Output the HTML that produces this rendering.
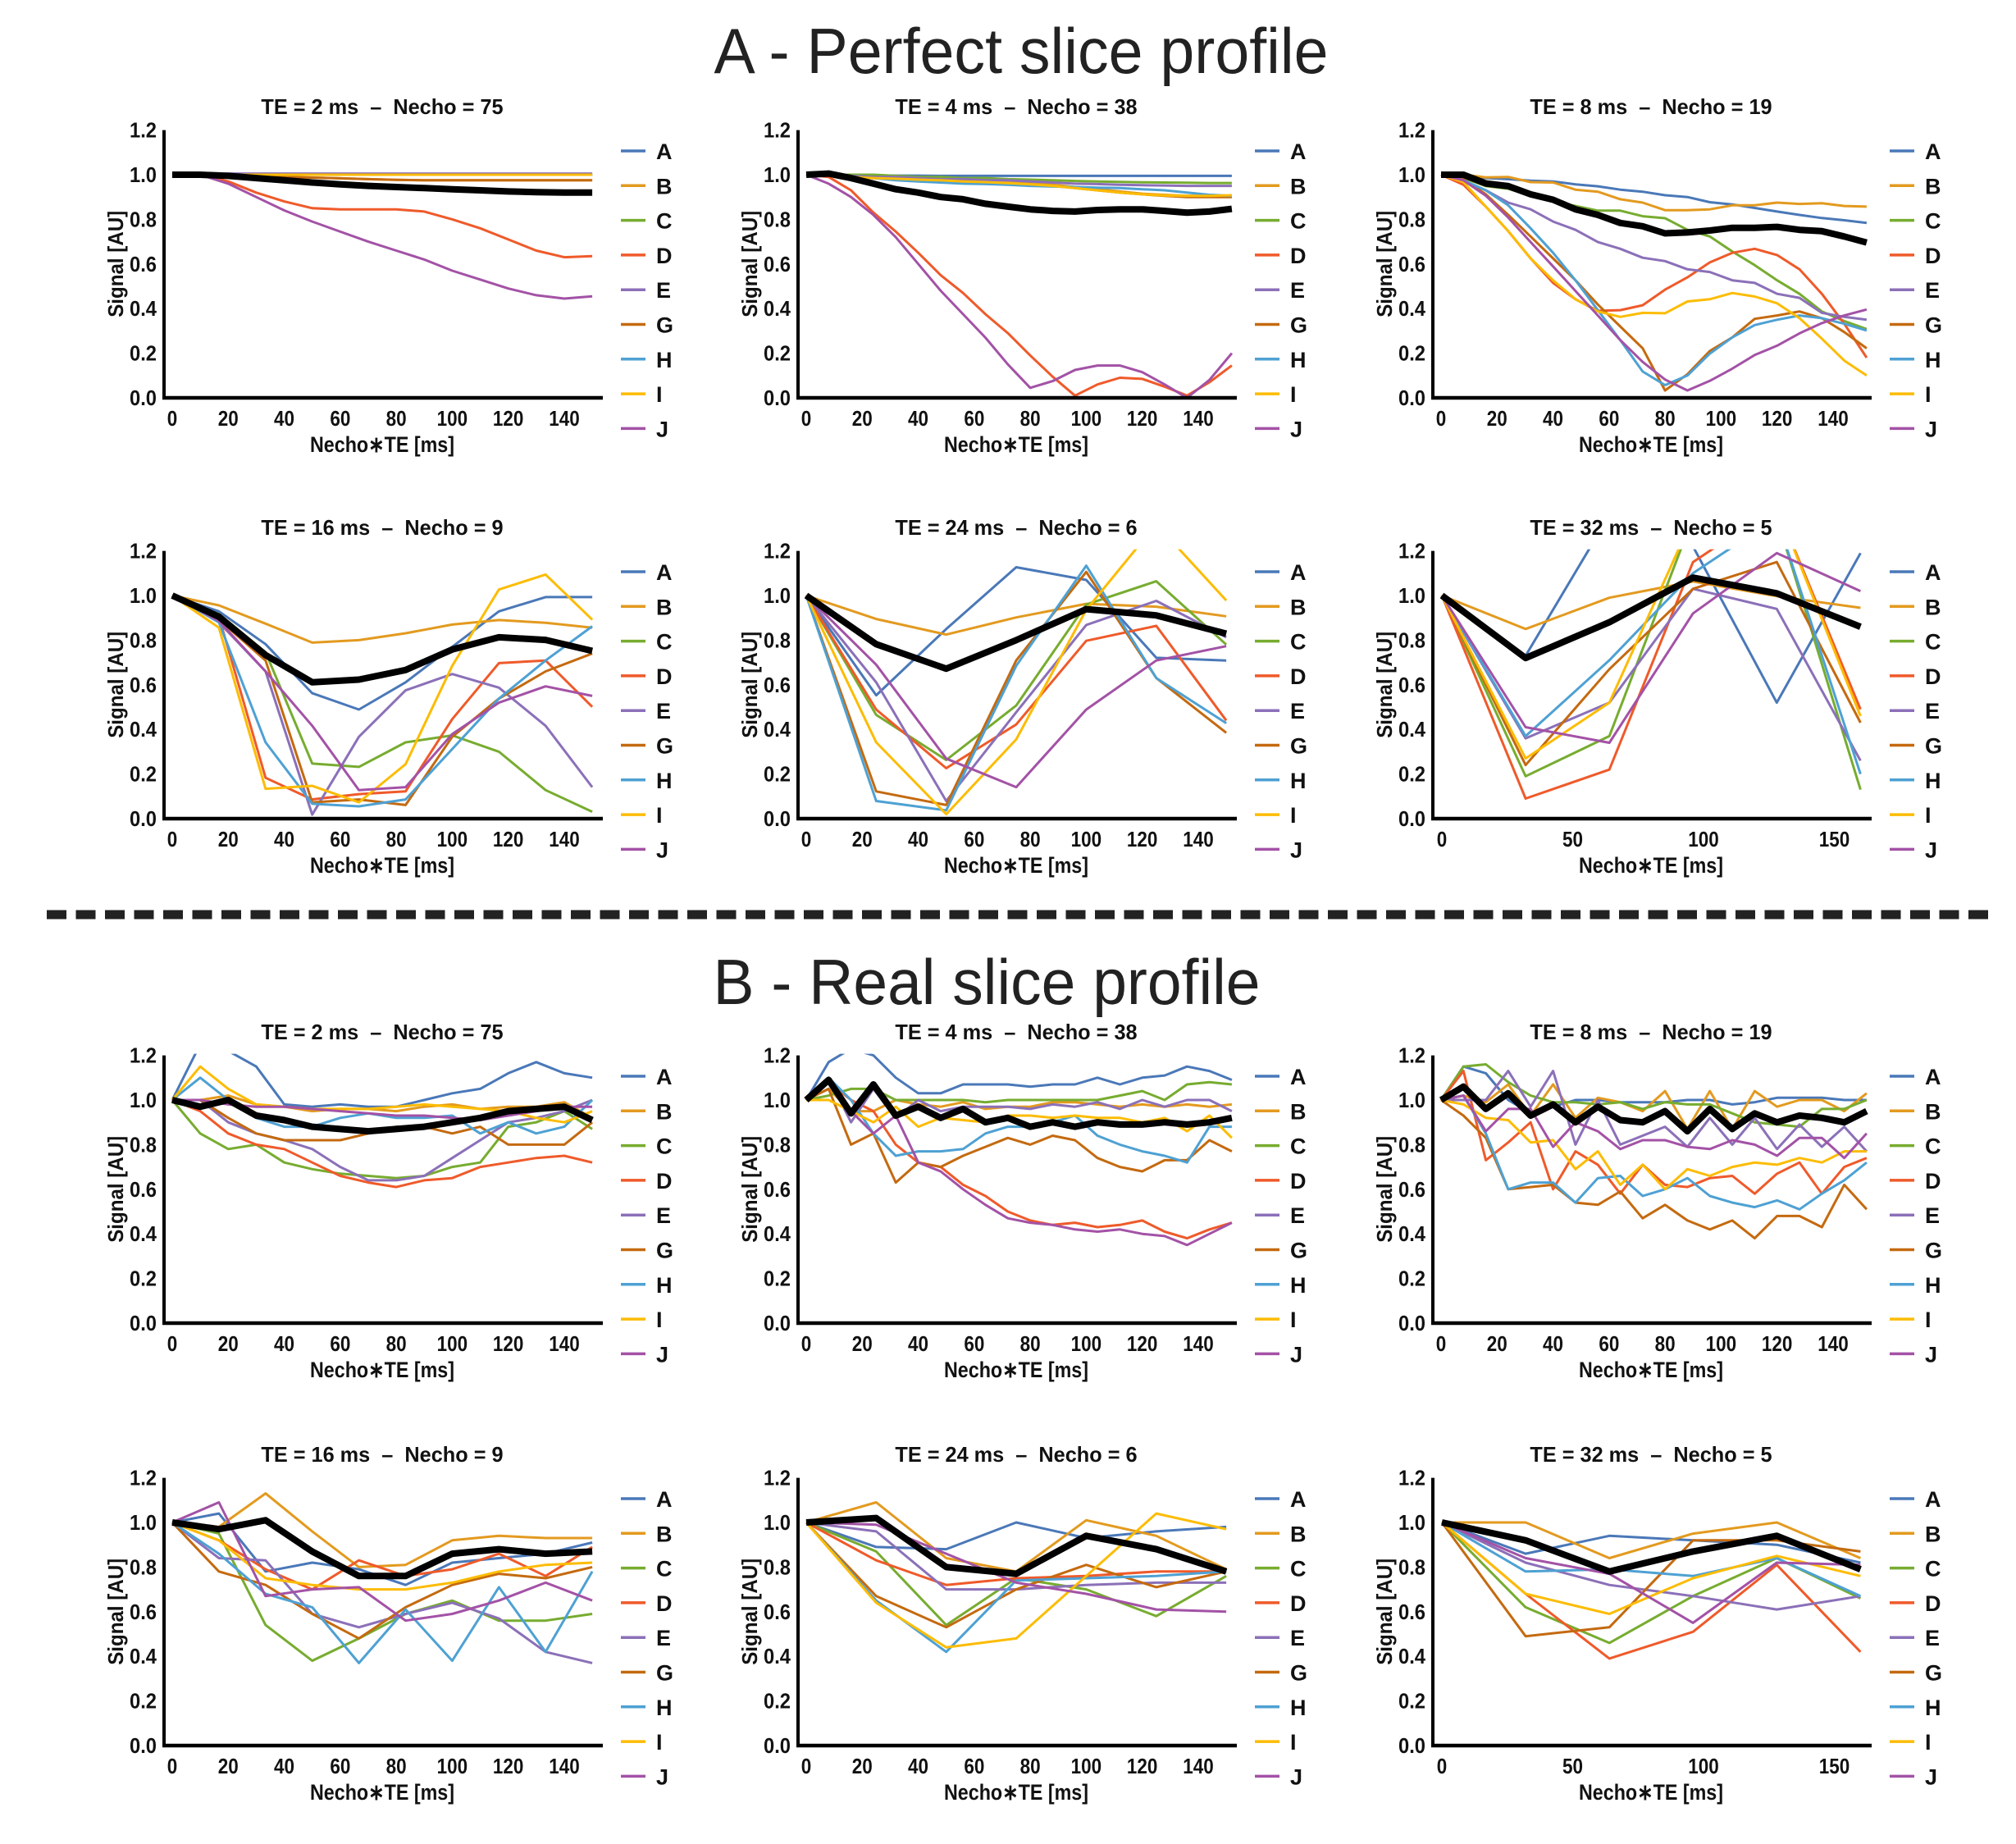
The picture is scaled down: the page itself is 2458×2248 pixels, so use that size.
<!DOCTYPE html>
<html><head><meta charset="utf-8">
<style>
html,body{margin:0;padding:0;background:#fff;}
svg{display:block;font-family:"Liberation Sans Narrow","Liberation Sans",sans-serif;}
</style></head>
<body>
<svg id="fig" width="2458" height="2248" viewBox="0 0 2458 2248" xmlns="http://www.w3.org/2000/svg">
<rect width="2458" height="2248" fill="#fff"/>
<text x="1245" y="89" text-anchor="middle" font-family="Liberation Sans, sans-serif" font-size="78" fill="#222" textLength="749" lengthAdjust="spacingAndGlyphs">A - Perfect slice profile</text>
<text x="1203" y="1224" text-anchor="middle" font-family="Liberation Sans, sans-serif" font-size="78" fill="#222" textLength="667" lengthAdjust="spacingAndGlyphs">B - Real slice profile</text>
<line x1="57" y1="1115" x2="2435" y2="1115" stroke="#222" stroke-width="11" stroke-dasharray="24 11.5"/>
<g id="panels"></g>
</svg>
<script>
const SERIES = ['A','B','C','D','E','G','H','I','J'];
const COLORS = ['#4a78b8','#e39a1f','#77ac30','#ef5a2a','#8b70b8','#c46a10','#4ea1d3','#fcbc04','#a352a6'];
const Y_TICKS = ['0.0','0.2','0.4','0.6','0.8','1.0','1.2'];
const X_TICKS_STD = [0,20,40,60,80,100,120,140];
const X_TICKS_32 = [0,50,100,150];

// ---- A: perfect slice profile ----
const A1_TITLE = 'TE = 2 ms  \u2013  Necho = 75';
const A1_X = [0,10,20,30,40,50,60,70,80,90,100,110,120,130,140,150];
const A1_VALUES = [
 [1,1,1,1,1,1,1,1,1,1,1,1,1,1,1,1],
 [1,1,1,0.995,0.99,0.987,0.984,0.98,0.977,0.975,0.975,0.975,0.975,0.975,0.975,0.975],
 [1,1,1,1,1,1,1,1,1,1,1,1,1,1,1,1],
 [1,1,0.97,0.92,0.88,0.85,0.845,0.845,0.845,0.835,0.80,0.76,0.71,0.66,0.63,0.635],
 [1,1,1.005,1.005,1.005,1.005,1.005,1.005,1.005,1.005,1.005,1.005,1.005,1.005,1.005,1.005],
 [1,1,1,0.995,0.99,0.987,0.984,0.98,0.977,0.975,0.975,0.975,0.975,0.975,0.975,0.975],
 [1,1,1,1,1,1,1,1,1,1,1,1,1,1,1,1],
 [1,1,1,1,1,1,1,1,1,1,1,1,1,1,1,1],
 [1,1,0.96,0.90,0.84,0.79,0.745,0.70,0.66,0.62,0.57,0.53,0.49,0.46,0.445,0.455]
];
const A1_MEAN = [1,1,0.995,0.985,0.975,0.965,0.957,0.95,0.945,0.94,0.935,0.93,0.925,0.922,0.92,0.92];

const A2_TITLE = 'TE = 4 ms  \u2013  Necho = 38';
const A2_X = [0,8,16,24,32,40,48,56,64,72,80,88,96,104,112,120,128,136,144,152];
const A2_VALUES = [
 [1,1,0.998,0.997,0.996,0.996,0.995,0.995,0.995,0.995,0.995,0.995,0.995,0.995,0.995,0.995,0.995,0.995,0.995,0.995],
 [1,1,0.995,0.99,0.985,0.98,0.975,0.97,0.968,0.965,0.96,0.955,0.945,0.935,0.925,0.915,0.91,0.905,0.905,0.905],
 [1,1,1.0,1.0,0.995,0.99,0.99,0.985,0.985,0.98,0.978,0.975,0.972,0.97,0.968,0.966,0.965,0.964,0.963,0.963],
 [1,0.99,0.93,0.83,0.745,0.65,0.55,0.47,0.375,0.29,0.19,0.095,0.01,0.06,0.09,0.085,0.05,0.01,0.07,0.145],
 [1,1,0.995,0.99,0.99,0.985,0.98,0.98,0.975,0.975,0.97,0.965,0.96,0.958,0.955,0.953,0.952,0.95,0.95,0.95],
 [1,1,0.99,0.985,0.98,0.977,0.973,0.97,0.965,0.96,0.955,0.95,0.94,0.93,0.92,0.912,0.905,0.9,0.9,0.9],
 [1,1,0.99,0.985,0.975,0.97,0.965,0.96,0.958,0.955,0.95,0.947,0.945,0.942,0.94,0.935,0.93,0.92,0.91,0.905],
 [1,1,0.99,0.985,0.982,0.978,0.975,0.97,0.967,0.962,0.957,0.95,0.94,0.93,0.92,0.912,0.907,0.905,0.905,0.908],
 [1,0.96,0.90,0.82,0.72,0.60,0.48,0.375,0.27,0.15,0.045,0.075,0.125,0.145,0.145,0.115,0.06,0.0,0.08,0.2]
];
const A2_MEAN = [1,1.005,0.985,0.96,0.935,0.92,0.90,0.89,0.87,0.857,0.845,0.838,0.835,0.842,0.845,0.845,0.838,0.83,0.835,0.847];

const A3_TITLE = 'TE = 8 ms  \u2013  Necho = 19';
const A3_X = [0,8,16,24,32,40,48,56,64,72,80,88,96,104,112,120,128,136,144,152];
const A3_VALUES = [
 [1,1,0.985,0.98,0.973,0.97,0.957,0.948,0.933,0.924,0.908,0.9,0.877,0.867,0.851,0.835,0.82,0.806,0.796,0.784],
 [1,1,0.988,0.99,0.967,0.965,0.933,0.924,0.89,0.875,0.841,0.841,0.845,0.863,0.863,0.875,0.869,0.872,0.86,0.857],
 [1,0.985,0.949,0.937,0.906,0.882,0.86,0.839,0.839,0.814,0.805,0.753,0.723,0.656,0.595,0.527,0.466,0.387,0.344,0.308],
 [1,0.955,0.857,0.747,0.625,0.515,0.442,0.39,0.393,0.415,0.485,0.54,0.607,0.65,0.668,0.64,0.576,0.466,0.332,0.18],
 [1,0.973,0.93,0.875,0.845,0.79,0.753,0.698,0.668,0.628,0.613,0.576,0.564,0.527,0.515,0.466,0.448,0.381,0.363,0.35],
 [1,0.98,0.912,0.82,0.723,0.625,0.527,0.418,0.32,0.222,0.033,0.106,0.21,0.271,0.354,0.369,0.387,0.357,0.295,0.222],
 [1,0.975,0.93,0.863,0.76,0.65,0.527,0.393,0.259,0.118,0.057,0.1,0.198,0.271,0.326,0.35,0.369,0.357,0.332,0.302],
 [1,0.967,0.857,0.747,0.625,0.527,0.442,0.387,0.363,0.381,0.379,0.432,0.442,0.47,0.454,0.424,0.357,0.265,0.167,0.1],
 [1,0.975,0.906,0.808,0.698,0.589,0.479,0.369,0.259,0.161,0.082,0.033,0.076,0.131,0.192,0.234,0.289,0.335,0.369,0.396]
];
const A3_MEAN = [1,1,0.961,0.949,0.912,0.888,0.845,0.82,0.784,0.769,0.737,0.741,0.75,0.762,0.762,0.766,0.753,0.747,0.723,0.696];

const A4_TITLE = 'TE = 16 ms  \u2013  Necho = 9';
const A4_X = [0,16.67,33.33,50,66.67,83.33,100,116.67,133.33,150];
const A4_VALUES = [
 [1,0.929,0.782,0.562,0.489,0.611,0.77,0.929,0.993,0.993],
 [1,0.956,0.874,0.789,0.8,0.831,0.87,0.89,0.878,0.856],
 [1,0.917,0.746,0.247,0.232,0.342,0.373,0.3,0.128,0.031],
 [1,0.905,0.183,0.086,0.11,0.122,0.446,0.697,0.709,0.501],
 [1,0.88,0.66,0.018,0.367,0.575,0.648,0.587,0.416,0.141],
 [1,0.892,0.709,0.073,0.086,0.061,0.367,0.538,0.66,0.74],
 [1,0.88,0.342,0.067,0.055,0.086,0.312,0.538,0.709,0.862],
 [1,0.856,0.134,0.147,0.073,0.244,0.685,1.027,1.094,0.892],
 [1,0.886,0.66,0.416,0.128,0.141,0.379,0.52,0.593,0.55]
];
const A4_MEAN = [1,0.905,0.733,0.611,0.623,0.666,0.758,0.813,0.801,0.752];

const A5_TITLE = 'TE = 24 ms  \u2013  Necho = 6';
const A5_X = [0,25,50,75,100,125,150];
const A5_VALUES = [
 [1,0.553,0.85,1.127,1.07,0.721,0.709],
 [1,0.895,0.825,0.902,0.963,0.95,0.907],
 [1,0.465,0.263,0.507,0.96,1.064,0.78],
 [1,0.489,0.226,0.422,0.797,0.864,0.44],
 [1,0.611,0.079,0.477,0.868,0.976,0.813],
 [1,0.122,0.061,0.709,1.106,0.63,0.385],
 [1,0.079,0.037,0.685,1.134,0.63,0.428],
 [1,0.342,0.02,0.355,0.936,1.32,0.978],
 [1,0.69,0.269,0.141,0.489,0.709,0.773]
];
const A5_MEAN = [1,0.782,0.672,0.8,0.939,0.911,0.829];

const A6_TITLE = 'TE = 32 ms  \u2013  Necho = 5';
const A6_X = [0,32,64,96,128,160];
const A6_VALUES = [
 [1,0.73,1.36,1.22,0.52,1.19],
 [1,0.85,0.99,1.063,0.997,0.945],
 [1,0.19,0.37,1.35,1.35,0.13],
 [1,0.09,0.22,1.15,1.4,0.49],
 [1,0.36,0.52,1.03,0.94,0.26],
 [1,0.24,0.67,1.03,1.15,0.43],
 [1,0.37,0.71,1.1,1.35,0.2],
 [1,0.27,0.52,1.35,1.4,0.46],
 [1,0.41,0.34,0.92,1.19,1.02]
];
const A6_MEAN = [1,0.72,0.88,1.08,1.01,0.86];

// ---- B: real slice profile ----
const B1_TITLE = 'TE = 2 ms  \u2013  Necho = 75';
const B1_X = [0,10,20,30,40,50,60,70,80,90,100,110,120,130,140,150];
const B1_VALUES = [
 [1,1.25,1.22,1.15,0.98,0.97,0.98,0.97,0.97,1.0,1.03,1.05,1.12,1.17,1.12,1.1],
 [1,1.0,1.02,0.98,0.97,0.95,0.96,0.96,0.95,0.97,0.98,0.96,0.97,0.97,0.99,0.92],
 [1,0.85,0.78,0.8,0.72,0.69,0.67,0.66,0.65,0.66,0.7,0.72,0.88,0.9,0.95,0.87],
 [1,0.95,0.85,0.8,0.78,0.72,0.66,0.63,0.61,0.64,0.65,0.7,0.72,0.74,0.75,0.72],
 [1,1.0,0.9,0.85,0.82,0.78,0.7,0.64,0.64,0.66,0.74,0.82,0.9,0.92,0.95,1.0],
 [1,1.0,0.92,0.85,0.82,0.82,0.82,0.85,0.88,0.88,0.85,0.88,0.8,0.8,0.8,0.9],
 [1,1.1,1.0,0.92,0.88,0.88,0.92,0.94,0.92,0.92,0.93,0.85,0.9,0.85,0.88,1.0],
 [1,1.15,1.05,0.98,0.97,0.96,0.96,0.96,0.97,0.98,0.97,0.96,0.95,0.92,0.9,0.95],
 [1,1.0,0.98,0.97,0.97,0.96,0.95,0.94,0.93,0.93,0.92,0.91,0.93,0.95,0.97,0.97]
];
const B1_MEAN = [1,0.97,1.0,0.93,0.91,0.88,0.87,0.86,0.87,0.88,0.9,0.92,0.95,0.96,0.97,0.91];

const B2_TITLE = 'TE = 4 ms  \u2013  Necho = 38';
const B2_X = [0,8,16,24,32,40,48,56,64,72,80,88,96,104,112,120,128,136,144,152];
const B2_VALUES = [
 [1,1.17,1.23,1.2,1.1,1.03,1.03,1.07,1.07,1.07,1.06,1.07,1.07,1.1,1.07,1.1,1.11,1.15,1.13,1.09],
 [1,1.05,0.95,0.95,1.0,0.98,0.97,0.99,0.96,0.97,0.97,0.99,0.99,0.98,0.97,0.98,0.97,0.98,0.97,0.98],
 [1,1.02,1.05,1.05,1.0,1.0,1.0,1.0,0.99,1.0,1.0,1.0,1.0,1.0,1.02,1.04,1.0,1.07,1.08,1.07],
 [1,1.08,1.0,0.95,0.8,0.72,0.7,0.62,0.57,0.5,0.46,0.44,0.45,0.43,0.44,0.46,0.41,0.38,0.42,0.45],
 [1,1.1,0.9,1.05,0.92,1.0,0.95,0.97,0.97,0.97,0.96,0.98,0.97,0.99,0.96,1.0,0.97,1.0,1.0,0.95],
 [1,1.05,0.8,0.85,0.63,0.72,0.7,0.75,0.79,0.83,0.8,0.84,0.82,0.74,0.7,0.68,0.73,0.73,0.82,0.77],
 [1,1.1,1.0,0.85,0.75,0.77,0.77,0.78,0.85,0.88,0.88,0.9,0.93,0.84,0.8,0.77,0.75,0.72,0.88,0.88],
 [1,1.0,0.95,0.9,0.97,0.88,0.92,0.91,0.9,0.93,0.93,0.92,0.93,0.92,0.92,0.9,0.92,0.86,0.93,0.83],
 [1,1.08,0.95,0.85,0.93,0.72,0.68,0.6,0.53,0.47,0.45,0.44,0.42,0.41,0.42,0.4,0.39,0.35,0.4,0.45]
];
const B2_MEAN = [1,1.09,0.94,1.07,0.93,0.97,0.92,0.96,0.9,0.92,0.88,0.9,0.88,0.9,0.89,0.89,0.9,0.89,0.9,0.92];

const B3_TITLE = 'TE = 8 ms  \u2013  Necho = 19';
const B3_X = [0,8,16,24,32,40,48,56,64,72,80,88,96,104,112,120,128,136,144,152];
const B3_VALUES = [
 [1,1.15,1.12,1.0,0.94,0.97,1.0,1.0,0.99,0.99,0.99,1.0,1.0,0.98,0.99,1.01,1.01,1.01,1.0,1.0],
 [1,1.02,0.99,1.07,0.93,1.07,0.92,1.01,0.99,0.95,1.04,0.87,1.04,0.87,1.04,0.97,1.0,1.0,0.95,1.03],
 [1,1.15,1.16,1.08,1.02,0.99,0.99,0.98,0.99,0.96,0.99,0.98,0.98,0.94,0.9,0.89,0.88,0.96,0.96,1.0],
 [1,1.13,0.73,0.81,0.9,0.6,0.77,0.71,0.58,0.71,0.62,0.61,0.65,0.66,0.58,0.67,0.72,0.58,0.7,0.74],
 [1,1.0,1.0,1.13,0.97,1.13,0.8,1.0,0.8,0.84,0.88,0.79,0.92,0.8,0.92,0.78,0.89,0.79,0.88,0.77],
 [1,0.93,0.83,0.6,0.61,0.62,0.54,0.53,0.59,0.47,0.53,0.46,0.42,0.46,0.38,0.48,0.48,0.43,0.62,0.51],
 [1,1.02,0.85,0.6,0.63,0.63,0.54,0.65,0.66,0.57,0.6,0.65,0.57,0.54,0.52,0.55,0.51,0.58,0.64,0.72],
 [1,0.98,0.92,0.91,0.81,0.82,0.69,0.77,0.62,0.71,0.6,0.69,0.66,0.7,0.72,0.71,0.74,0.72,0.77,0.77],
 [1,1.02,0.86,0.96,0.96,0.79,0.9,0.86,0.78,0.82,0.82,0.79,0.78,0.82,0.8,0.75,0.83,0.83,0.74,0.85]
];
const B3_MEAN = [1,1.06,0.96,1.03,0.93,0.98,0.9,0.97,0.91,0.9,0.95,0.86,0.96,0.87,0.94,0.9,0.93,0.92,0.9,0.95];

const B4_TITLE = 'TE = 16 ms  \u2013  Necho = 9';
const B4_X = [0,16.67,33.33,50,66.67,83.33,100,116.67,133.33,150];
const B4_VALUES = [
 [1,1.04,0.78,0.82,0.79,0.72,0.82,0.84,0.86,0.91],
 [1,0.98,1.13,0.96,0.8,0.81,0.92,0.94,0.93,0.93],
 [1,0.95,0.54,0.38,0.48,0.59,0.65,0.56,0.56,0.59],
 [1,0.92,0.79,0.7,0.83,0.76,0.79,0.86,0.76,0.89],
 [1,0.84,0.83,0.59,0.53,0.59,0.64,0.57,0.42,0.37],
 [1,0.78,0.72,0.59,0.48,0.62,0.72,0.77,0.75,0.8],
 [1,0.86,0.68,0.62,0.37,0.61,0.38,0.71,0.42,0.78],
 [1,0.92,0.75,0.72,0.7,0.7,0.73,0.78,0.81,0.82],
 [1,1.09,0.67,0.7,0.71,0.56,0.59,0.65,0.73,0.65]
];
const B4_MEAN = [1,0.97,1.01,0.87,0.76,0.76,0.86,0.88,0.86,0.87];

const B5_TITLE = 'TE = 24 ms  \u2013  Necho = 6';
const B5_X = [0,25,50,75,100,125,150];
const B5_VALUES = [
 [1,0.89,0.88,1.0,0.93,0.96,0.98],
 [1,1.09,0.84,0.78,1.01,0.94,0.79],
 [1,0.87,0.54,0.75,0.70,0.58,0.76],
 [1,0.83,0.72,0.75,0.76,0.78,0.78],
 [1,0.96,0.70,0.70,0.72,0.73,0.73],
 [1,0.67,0.53,0.70,0.81,0.71,0.78],
 [1,0.65,0.42,0.74,0.75,0.76,0.78],
 [1,0.64,0.44,0.48,0.76,1.04,0.97],
 [1,0.99,0.86,0.73,0.68,0.61,0.6]
];
const B5_MEAN = [1,1.02,0.8,0.77,0.94,0.88,0.78];

const B6_TITLE = 'TE = 32 ms  \u2013  Necho = 5';
const B6_X = [0,32,64,96,128,160];
const B6_VALUES = [
 [1,0.86,0.94,0.92,0.9,0.82],
 [1,1.0,0.84,0.95,1.0,0.84],
 [1,0.62,0.46,0.67,0.84,0.66],
 [1,0.68,0.39,0.51,0.81,0.42],
 [1,0.82,0.72,0.67,0.61,0.67],
 [1,0.49,0.53,0.92,0.92,0.87],
 [1,0.78,0.79,0.76,0.84,0.67],
 [1,0.68,0.59,0.75,0.85,0.76],
 [1,0.84,0.77,0.55,0.82,0.81]
];
const B6_MEAN = [1,0.92,0.78,0.87,0.94,0.79];

const PANEL_TITLES = [A1_TITLE,A2_TITLE,A3_TITLE,A4_TITLE,A5_TITLE,A6_TITLE,B1_TITLE,B2_TITLE,B3_TITLE,B4_TITLE,B5_TITLE,B6_TITLE];
const PANEL_XS = [A1_X,A2_X,A3_X,A4_X,A5_X,A6_X,B1_X,B2_X,B3_X,B4_X,B5_X,B6_X];
const PANEL_VALUES = [A1_VALUES,A2_VALUES,A3_VALUES,A4_VALUES,A5_VALUES,A6_VALUES,B1_VALUES,B2_VALUES,B3_VALUES,B4_VALUES,B5_VALUES,B6_VALUES];
const PANEL_MEANS = [A1_MEAN,A2_MEAN,A3_MEAN,A4_MEAN,A5_MEAN,A6_MEAN,B1_MEAN,B2_MEAN,B3_MEAN,B4_MEAN,B5_MEAN,B6_MEAN];

(function(){
  const NS = 'http://www.w3.org/2000/svg';
  const root = document.getElementById('panels');
  const AXIS_X = [200, 973, 1747];
  const ROW_Y0 = [485, 998, 1613, 2128];
  const UNIT = 272;
  function mk(tag, attrs, parent){
    const e = document.createElementNS(NS, tag);
    for (const k in attrs) e.setAttribute(k, attrs[k]);
    parent.appendChild(e);
    return e;
  }
  for (let p = 0; p < 12; p++){
    const col = p % 3, row = Math.floor(p / 3);
    const ax = AXIS_X[col], y0 = ROW_Y0[row];
    const is32 = (col === 2 && (row === 1 || row === 3));
    const pxPerMs = is32 ? 3.19 : 3.414;
    const x0 = ax + (is32 ? 11 : 10);
    const xs = v => x0 + v * pxPerMs;
    const ys = v => y0 - v * UNIT;
    const g = mk('g', {}, root);
    
    
    const cp = mk('clipPath', {id: 'clip' + p}, g);
    mk('rect', {x: ax, y: ys(1.2) - 2, width: 560, height: UNIT * 1.2 + 4}, cp);
    // title
    const title = PANEL_TITLES[p];
    const t = mk('text', {x: ax + 266, y: y0 - 346, 'text-anchor': 'middle', 'font-size': 26, 'font-weight': 'bold', fill: '#111', textLength: title.length * 12.3, lengthAdjust: 'spacingAndGlyphs'}, g);
    t.textContent = title.replace(/ {2}/g, '\u00a0 ');
    
    
    // y ticks
    Y_TICKS.forEach(function(lbl){
      const tt = mk('text', {x: ax - 9, y: ys(parseFloat(lbl)) + 9, 'text-anchor': 'end', 'font-size': 26, 'font-weight': 'bold', fill: '#111', textLength: 33, lengthAdjust: 'spacingAndGlyphs'}, g);
      tt.textContent = lbl;
      
      
    });
    // x ticks
    const xticks = is32 ? X_TICKS_32 : X_TICKS_STD;
    xticks.forEach(function(v){
      const s = String(v);
      const tt = mk('text', {x: xs(v), y: y0 + 34, 'text-anchor': 'middle', 'font-size': 26, 'font-weight': 'bold', fill: '#111', textLength: s.length * 12.5, lengthAdjust: 'spacingAndGlyphs'}, g);
      tt.textContent = s;
      
      
    });
    // axis titles
    const yt = mk('text', {x: 0, y: 0, transform: 'translate(' + (ax - 50) + ',' + (y0 - UNIT * 0.6) + ') rotate(-90)', 'text-anchor': 'middle', 'font-size': 26, 'font-weight': 'bold', fill: '#111', textLength: 130, lengthAdjust: 'spacingAndGlyphs'}, g);
    yt.textContent = 'Signal [AU]';
    
    
    const xt = mk('text', {x: ax + 266, y: y0 + 66, 'text-anchor': 'middle', 'font-size': 27, 'font-weight': 'bold', fill: '#111', textLength: 176, lengthAdjust: 'spacingAndGlyphs'}, g);
    xt.textContent = 'Necho\u2217TE [ms]';
    
    
    // series
    const xsArr = PANEL_XS[p];
    const vals = PANEL_VALUES[p];
    const lg = mk('g', {'clip-path': 'url(#clip' + p + ')'}, g);
    vals.forEach(function(arr, si){
      const pts = arr.map((v, i) => xs(xsArr[i]).toFixed(1) + ',' + ys(v).toFixed(1)).join(' ');
      const pl = mk('polyline', {points: pts, fill: 'none', stroke: COLORS[si], 'stroke-width': 3, 'stroke-linejoin': 'round'}, lg);
      
      
    });
    const mpts = PANEL_MEANS[p].map((v, i) => xs(xsArr[i]).toFixed(1) + ',' + ys(v).toFixed(1)).join(' ');
    const ml = mk('polyline', {points: mpts, fill: 'none', stroke: '#000', 'stroke-width': 8, 'stroke-linejoin': 'round'}, lg);
    
    
    // axes
    const yl = mk('line', {x1: ax, y1: ys(1.2), x2: ax, y2: y0 + 2, stroke: '#000', 'stroke-width': 4}, g);
    
    
    const xl = mk('line', {x1: ax - 2, y1: y0, x2: ax + 535, y2: y0, stroke: '#000', 'stroke-width': 4.5}, g);
    
    
    // legend
    SERIES.forEach(function(name, si){
      const ly = y0 - 301 + si * 42.3;
      const le = mk('g', {}, g);
      
      
      mk('line', {x1: ax + 557, y1: ly, x2: ax + 587, y2: ly, stroke: COLORS[si], 'stroke-width': 3.5}, le);
      const lt = mk('text', {x: ax + 600, y: ly + 10, 'font-size': 27, 'font-weight': 'bold', fill: '#111'}, le);
      lt.textContent = name;
    });
  }
})();
</script>
</body></html>
